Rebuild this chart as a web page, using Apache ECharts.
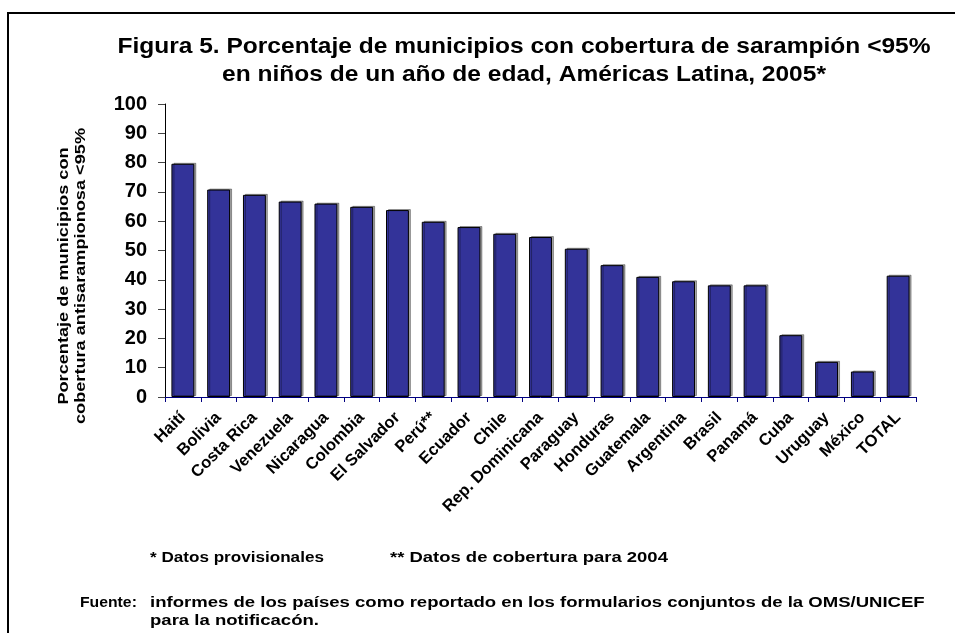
<!DOCTYPE html>
<html>
<head>
<meta charset="utf-8">
<title>Figura 5</title>
<script src="https://cdn.jsdelivr.net/npm/echarts@6/dist/echarts.min.js"></script>
<style>
  html, body { margin: 0; padding: 0; background: #fff; }
  #chart { width: 955px; height: 633px; }
</style>
</head>
<body>
<div id="chart"></div>
<script>
// datos del grafico
var paises = ['Haití', 'Bolivia', 'Costa Rica', 'Venezuela', 'Nicaragua', 'Colombia', 'El Salvador', 'Perú**', 'Ecuador', 'Chile', 'Rep. Dominicana', 'Paraguay', 'Honduras', 'Guatemala', 'Argentina', 'Brasil', 'Panamá', 'Cuba', 'Uruguay', 'México', 'TOTAL'];
var porcentajes = [79.6, 70.8, 69.0, 66.7, 66.0, 64.9, 63.8, 59.8, 58.0, 55.7, 54.6, 50.6, 45.0, 41.0, 39.5, 38.1, 38.1, 21.1, 12.0, 8.7, 41.4];
var yMin = 0, yMax = 100, yPaso = 10;

var fuente = 'Liberation Sans, Arial, sans-serif';

// texto suelto (titulo, eje y, notas) con escala horizontal
function texto(txt, x, y, size, sx, align, rot) {
	return {
		type: 'text',
		x: x, y: y,
		rotation: rot || 0,
		scaleX: sx,
		style: {
			text: txt,
			font: 'bold ' + size + 'px ' + fuente,
			fill: '#000',
			align: align || 'left',
			verticalAlign: 'middle',
			lineHeight: size + 2
		}
	};
}

var myChart = echarts.init(document.getElementById('chart'));
var option = {
	animation: false,
	grid: { left: 165, right: 39, top: 104, bottom: 236 },
	xAxis: {
		type: 'category',
		data: paises,
		axisLine: { lineStyle: { color: '#000080', width: 1 } },
		axisTick: { show: true, length: 5, lineStyle: { color: '#000080' } },
		axisLabel: {
			interval: 0,
			rotate: 45,
			margin: 18,
			fontFamily: fuente,
			fontSize: 16.5,
			fontWeight: 'bold',
			color: '#000'
		}
	},
	yAxis: {
		type: 'value',
		min: yMin,
		max: yMax,
		interval: yPaso,
		splitLine: { show: false },
		axisLine: { show: true, lineStyle: { color: '#000', width: 1 } },
		axisTick: { show: true, length: 7, lineStyle: { color: '#444' } },
		axisLabel: { fontFamily: fuente, fontSize: 20, fontWeight: 'bold', color: '#000', margin: 18 }
	},
	series: [{
		type: 'bar',
		data: porcentajes,
		barCategoryGap: '36%',
		itemStyle: {
			color: '#333399',
			borderColor: '#000',
			borderWidth: 1,
			shadowColor: 'rgba(0,0,0,0.35)',
			shadowOffsetX: 2,
			shadowOffsetY: -1,
			shadowBlur: 0
		}
	}],
	graphic: [
		{
			type: 'polyline',
			shape: { points: [[8, 640], [8, 13], [960, 13]] },
			style: { stroke: '#000', lineWidth: 2, fill: null }
		},
		texto('Figura 5. Porcentaje de municipios con cobertura de sarampión <95%', 524, 47, 22, 1.115, 'center'),
		texto('en niños de un año de edad, Américas Latina, 2005*', 524, 75, 22, 1.115, 'center'),
		texto('Porcentaje de municipios con\ncobertura antisarampionosa <95%', 72, 276, 15, 1.21, 'center', Math.PI / 2),
		texto('* Datos provisionales', 150, 558, 15, 1.14),
		texto('** Datos de cobertura para 2004', 390, 558, 15, 1.23),
		texto('Fuente:', 80, 603, 15, 1.05),
		texto('informes de los países como reportado en los formularios conjuntos de la OMS/UNICEF', 150, 603, 15, 1.236),
		texto('para la notificacón.', 150, 621, 15, 1.236)
	]
};
myChart.setOption(option);
</script>
</body>
</html>
